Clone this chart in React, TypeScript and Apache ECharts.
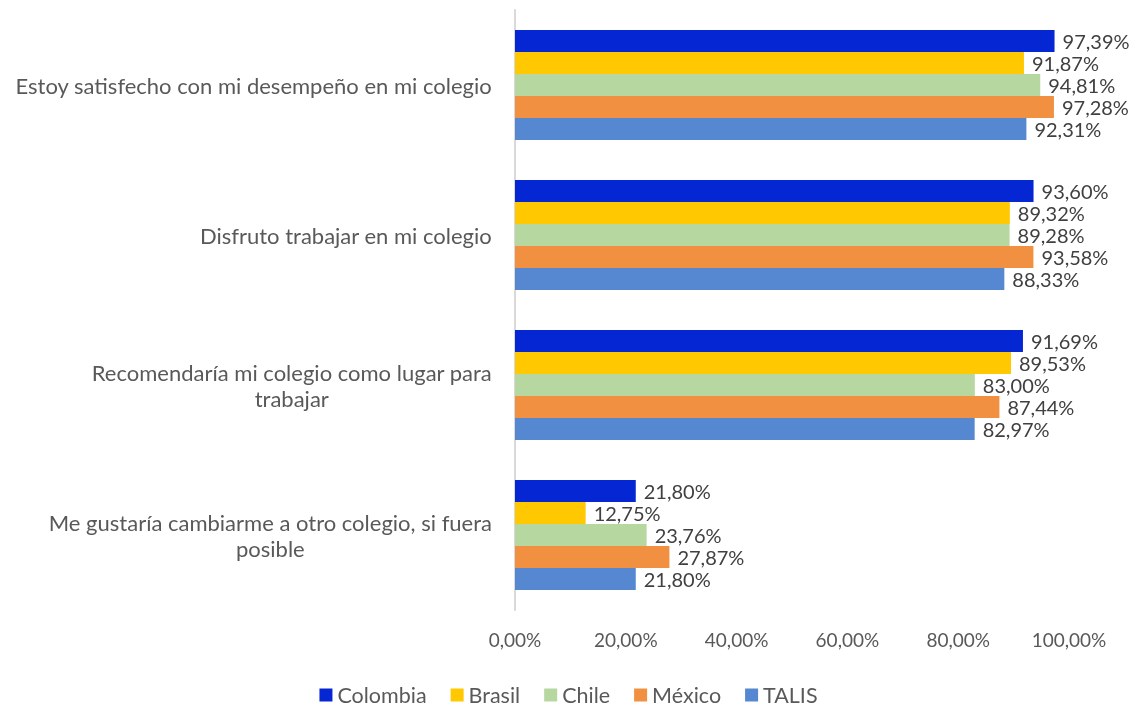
import React, { useEffect, useRef } from "react";
import * as echarts from "echarts";

const categories = [
  "Estoy satisfecho con mi desempeño en mi colegio",
  "Disfruto trabajar en mi colegio",
  "Recomendaría mi colegio como lugar para\ntrabajar",
  "Me gustaría cambiarme a otro colegio, si fuera\nposible",
];
const seriesNames = ["Colombia", "Brasil", "Chile", "México", "TALIS"];
const colombia = [97.39, 93.6, 91.69, 21.8];
const brasil = [91.87, 89.32, 89.53, 12.75];
const chile = [94.81, 89.28, 83.0, 23.76];
const mexico = [97.28, 93.58, 87.44, 27.87];
const talis = [92.31, 88.33, 82.97, 21.8];
const xTicks = [0, 20, 40, 60, 80, 100];

const colors = ["#0527d3", "#ffc800", "#b6d8a0", "#f09040", "#5588d0"];
const FONT = "Lato";

function fmt(v: number) {
  return v.toFixed(2).replace(".", ",") + "%";
}

function measure(text: string, size: number) {
  const c = document.createElement("canvas").getContext("2d")!;
  c.font = `${size}px ${FONT}`;
  return c.measureText(text).width;
}

export default function App() {
  const ref = useRef<HTMLDivElement>(null);
  useEffect(() => {
    document.body.style.margin = "0";
    const chart = echarts.init(ref.current!, undefined, { renderer: "svg" });
    const catSize = 22;
    const gridLeft = 515;
    const labelRight = gridLeft - 23;
    const data = [colombia, brasil, chile, mexico, talis];
    chart.setOption({
      animation: false,
      textStyle: { fontFamily: FONT },
      grid: { left: gridLeft, right: 68, top: 10, bottom: 98, containLabel: false },
      legend: {
        left: "center",
        top: 684,
        padding: 0,
        itemWidth: 13,
        itemHeight: 13,
        itemGap: 24,
        icon: "rect",
        textStyle: { fontSize: 21.5, color: "#595959", fontFamily: FONT, lineHeight: 20 },
        data: seriesNames,
      },
      xAxis: {
        type: "value",
        min: 0,
        max: 100,
        interval: 20,
        axisLine: { show: false },
        axisTick: { show: false },
        splitLine: { show: false },
        axisLabel: {
          margin: 20,
          fontSize: 19,
          color: "#595959",
          fontFamily: FONT,
          formatter: (v: number) => (xTicks.includes(v) ? fmt(v) : ""),
        },
      },
      yAxis: {
        type: "category",
        inverse: true,
        data: categories,
        axisLine: { show: true, lineStyle: { color: "#d9d9d9", width: 2 } },
        axisTick: { show: false },
        axisLabel: { show: false },
      },
      series: seriesNames.map((name, k) => ({
        name,
        type: "bar",
        data: data[k],
        barGap: "0%",
        barCategoryGap: "26.67%",
        itemStyle: { color: colors[k] },
        label: {
          show: true,
          position: "right",
          distance: 8,
          fontSize: 20,
          lineHeight: 20,
          fontFamily: FONT,
          color: "#404040",
          formatter: (p: any) => fmt(p.value),
        },
      })),
    });
    const graphics = categories.map((c, i) => {
      const lines = c.split("\n");
      const w = Math.max(...lines.map((l) => measure(l, catSize)));
      const y = chart.convertToPixel({ yAxisIndex: 0 }, i) as number;
      return {
        type: "text",
        x: labelRight - w / 2,
        y,
        style: {
          text: c,
          fontSize: catSize,
          fontFamily: FONT,
          fill: "#595959",
          lineHeight: 26,
          textAlign: "center",
          textVerticalAlign: "middle",
        },
      };
    });
    chart.setOption({ graphic: graphics });
    return () => chart.dispose();
  }, []);
  return (
    <div
      ref={ref}
      style={{ position: "fixed", left: 0, top: 0, width: 1137, height: 708 }}
    />
  );
}
